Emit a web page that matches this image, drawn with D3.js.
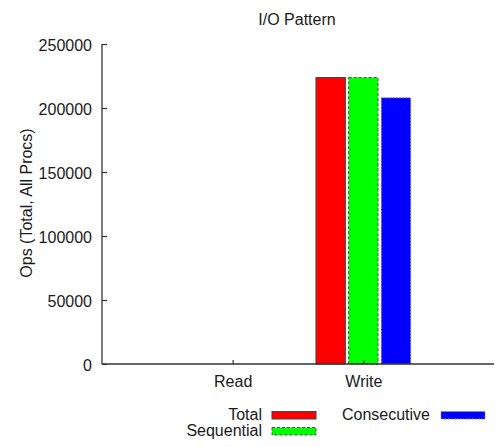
<!DOCTYPE html>
<html>
<head>
<meta charset="utf-8">
<script src="https://cdn.jsdelivr.net/npm/d3@7"></script>
<style>
  html, body { margin: 0; padding: 0; background: #fff; }
  svg { display: block; font-family: "Liberation Sans", Arial, Helvetica, sans-serif; }
</style>
</head>
<body>
<svg id="chart" width="500" height="447"></svg>
<script>
// Operation counts per access type, summed over all processes
const categories = ["Read", "Write"];
const seriesNames = ["Total", "Sequential", "Consecutive"];
const totalOps = [0, 223800];
const sequentialOps = [0, 223800];
const consecutiveOps = [0, 208000];
const yTicks = [0, 50000, 100000, 150000, 200000, 250000];

const seriesValues = [totalOps, sequentialOps, consecutiveOps];
const seriesStyle = [
  { fill: "#ff0000", stroke: "#444", dash: null },
  { fill: "#00ff00", stroke: "#555", dash: "3,2" },
  { fill: "#0000ff", stroke: "#8888bb", dash: "1.5,1.5" }
];

const svg = d3.select("#chart");
const ink = "#1a1a1a";

const plot = { left: 102, right: 494, top: 44, bottom: 364 };

// Category positions sit at 0, 1 in a [-1, 2] range
const x = d3.scaleLinear().domain([-1, categories.length]).range([plot.left, plot.right]);
const y = d3.scaleLinear().domain([0, 250000]).range([plot.bottom, plot.top]);

const slot = 0.25;          // spacing between bars within a cluster
const barW = 0.225;         // bar width in category units

// Bars
seriesValues.forEach((vals, s) => {
  const st = seriesStyle[s];
  svg.append("g").selectAll("rect")
    .data(vals.map((v, i) => ({ v, i })).filter(d => d.v > 0))
    .join("rect")
    .attr("x", d => x(d.i + (s - 1) * slot - barW / 2))
    .attr("width", x(barW) - x(0))
    .attr("y", d => y(d.v))
    .attr("height", d => y(0) - y(d.v))
    .attr("fill", st.fill)
    .attr("stroke", st.stroke)
    .attr("stroke-width", 1)
    .attr("stroke-dasharray", st.dash);
});

// Left axis with inward ticks
const yAxis = d3.axisLeft(y).tickValues(yTicks).tickSize(-5).tickPadding(10).tickFormat(d3.format("d"));
const gy = svg.append("g").attr("transform", `translate(${plot.left},0)`).call(yAxis);
gy.select(".domain").attr("d", `M0,${plot.top}V${plot.bottom}`).attr("stroke", "#333").attr("stroke-width", 1.3);
gy.selectAll(".tick line").attr("stroke", "#333").attr("stroke-width", 1.2);
gy.selectAll(".tick text")
  .attr("x", -10).attr("dy", "0.42em")
  .attr("font-size", 16).attr("fill", ink)
  .attr("font-family", "Liberation Sans, Arial, sans-serif");

// Bottom axis with inward ticks
const xAxis = d3.axisBottom(x).tickValues(d3.range(categories.length))
  .tickSize(-4).tickPadding(0).tickFormat(i => categories[i]);
const gx = svg.append("g").attr("transform", `translate(0,${plot.bottom})`).call(xAxis);
gx.select(".domain").attr("d", `M${plot.left},0H${plot.right}`).attr("stroke", "#333").attr("stroke-width", 1.3);
gx.selectAll(".tick line").attr("stroke", "#333").attr("stroke-width", 1.2);
gx.selectAll(".tick text")
  .attr("y", 22.5).attr("dy", null)
  .attr("font-size", 16).attr("fill", ink)
  .attr("font-family", "Liberation Sans, Arial, sans-serif");
// keep bars drawn above the axis tick at their category
svg.selectAll("rect").raise();

// Title
svg.append("text")
  .attr("x", 297).attr("y", 25)
  .attr("text-anchor", "middle")
  .attr("font-size", 16).attr("fill", ink)
  .text("I/O Pattern");

// Y axis label
svg.append("text")
  .attr("transform", "translate(31.5,203) rotate(-90)")
  .attr("text-anchor", "middle")
  .attr("font-size", 16).attr("fill", ink)
  .text("Ops (Total, All Procs)");

// Legend
const legendPos = [
  { tx: 262, sx: 272, y: 420 },
  { tx: 262, sx: 272, y: 436 },
  { tx: 430, sx: 441, y: 420 }
];
seriesNames.forEach((name, s) => {
  const p = legendPos[s];
  const st = seriesStyle[s];
  svg.append("text")
    .attr("x", p.tx).attr("y", p.y)
    .attr("text-anchor", "end")
    .attr("font-size", 16).attr("fill", ink)
    .text(name);
  svg.append("rect")
    .attr("x", p.sx).attr("y", p.y - 8.5)
    .attr("width", 44).attr("height", 7.5)
    .attr("fill", st.fill)
    .attr("stroke", st.stroke)
    .attr("stroke-width", 1)
    .attr("stroke-dasharray", st.dash);
});
</script>
</body>
</html>
